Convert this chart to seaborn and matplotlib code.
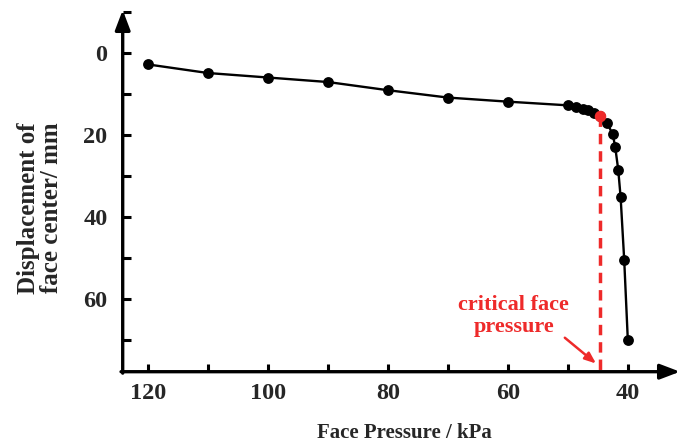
import matplotlib
matplotlib.use("Agg")
import matplotlib.pyplot as plt
import seaborn as sns
import pandas as pd
from matplotlib.ticker import MultipleLocator, FixedLocator

# ---- data ----
pressure = [120, 110, 100, 90, 80, 70, 60, 50, 48.6, 47.5, 46.6, 45.7, 44.6,
            43.5, 42.5, 42.1, 41.6, 41.2, 40.6, 40.0]
displacement = [2.7, 4.8, 5.9, 7.0, 9.0, 10.8, 11.8, 12.7, 13.1, 13.5, 13.9, 14.5, 15.4,
                16.9, 19.8, 22.9, 28.4, 35.1, 50.5, 70.0]
critical_pressure = 44.6
critical_disp = 15.4
x_ticks = [120, 100, 80, 60, 40]
y_ticks = [0, 20, 40, 60]
x_label = "Face Pressure / kPa"
y_label = "Displacement of\nface center/ mm"
note = "critical face\npressure"

df = pd.DataFrame({"p": pressure, "d": displacement})

sns.set_theme(style="white")
plt.rcParams["font.family"] = ["Liberation Serif", "DejaVu Serif"]
plt.rcParams["font.weight"] = "bold"

RED = "#ee2a2a"
W, H = 683, 445
fig = plt.figure(figsize=(W / 100, H / 100), dpi=100)
ax = fig.add_axes([122.7 / W, 73.3 / H, (680 - 122.7) / W, (371.7 - 10) / H])

# dashed critical line
ax.plot([critical_pressure, critical_pressure], [critical_disp, 80], color=RED,
        lw=2.5, ls=(0, (3.0, 2.0)), zorder=2, clip_on=True)

sns.lineplot(data=df, x="p", y="d", ax=ax, color="black", lw=1.7, marker="o",
             markersize=7.8, markeredgewidth=0, sort=False, estimator=None, zorder=3)
ax.plot([critical_pressure], [critical_disp], "o", color=RED, ms=8.3, mew=0, zorder=4)

ax.set_xlim(124.2, 31.3)
ax.set_ylim(77.8, -10.6)

for s in ["top", "right", "left", "bottom"]:
    ax.spines[s].set_visible(False)
# axis lines with arrows
ax.annotate("", xy=(1.0, 0), xytext=(-0.003, 0), xycoords="axes fraction",
            arrowprops=dict(arrowstyle="-|>,head_length=1.0,head_width=0.38", color="black",
                            lw=2.4, shrinkA=0, shrinkB=0))
ax.annotate("", xy=(0, 1.0), xytext=(0, -0.004), xycoords="axes fraction",
            arrowprops=dict(arrowstyle="-|>,head_length=1.0,head_width=0.38", color="black",
                            lw=2.4, shrinkA=0, shrinkB=0))

ax.xaxis.set_major_locator(FixedLocator(x_ticks))
ax.xaxis.set_minor_locator(MultipleLocator(10))
ax.yaxis.set_major_locator(FixedLocator(y_ticks))
ax.yaxis.set_minor_locator(MultipleLocator(10))
ax.tick_params(axis="both", which="both", direction="in", length=6, width=2.2,
               color="black", bottom=True, left=True)
ax.tick_params(axis="x", which="major", labelsize=17.5, pad=8)
ax.tick_params(axis="y", which="major", labelsize=17.5, pad=11)
ax.set_xticklabels([str(v) for v in x_ticks], fontweight="bold")
ax.set_yticklabels([str(v) for v in y_ticks], fontweight="bold")
ax.set_xlabel("")
ax.set_ylabel("")
ax.grid(False)

fig.text(404 / W, 1 - 433 / H, x_label, ha="center", va="center",
         fontsize=15, fontweight="bold")
fig.text(40 / W, 1 - 208 / H, y_label, ha="center", va="center", rotation=90,
         fontsize=18, fontweight="bold", multialignment="center", linespacing=1.0)

ax.text(59, 64.1, note, color=RED, ha="center", va="center", fontsize=16,
        fontweight="bold", linespacing=1.12)
ax.annotate("", xy=(45.3, 75.8), xytext=(50.5, 69.5),
            arrowprops=dict(arrowstyle="-|>,head_length=0.55,head_width=0.22", color=RED,
                            lw=1.8, shrinkA=0, shrinkB=0))

fig.savefig("out.png", dpi=100)
